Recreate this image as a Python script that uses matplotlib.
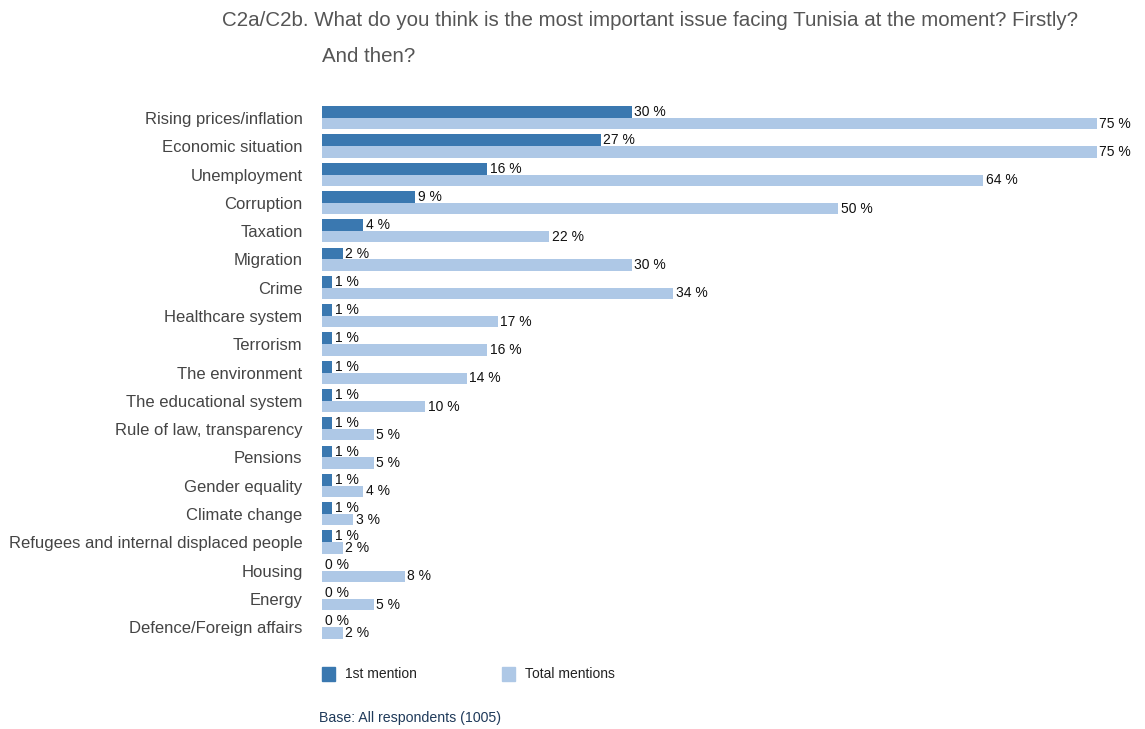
import matplotlib.pyplot as plt
import numpy as np

plt.rcParams['font.family'] = ['Liberation Sans', 'DejaVu Sans']

categories = [
    "Rising prices/inflation", "Economic situation", "Unemployment",
    "Corruption", "Taxation", "Migration", "Crime", "Healthcare system",
    "Terrorism", "The environment", "The educational system",
    "Rule of law, transparency", "Pensions", "Gender equality",
    "Climate change", "Refugees and internal displaced people",
    "Housing", "Energy", "Defence/Foreign affairs",
]
first_mention = [30, 27, 16, 9, 4, 2, 1, 1, 1, 1, 1, 1, 1, 1, 1, 1, 0, 0, 0]
total_mentions = [75, 75, 64, 50, 22, 30, 34, 17, 16, 14, 10, 5, 5, 4, 3, 2, 8, 5, 2]

dark = "#3a78b0"
light = "#aec8e6"

fig = plt.figure(figsize=(11.45, 7.29), dpi=100)
ax = fig.add_axes([0.2812, 0.1152, 0.7188, 0.7476])

y = np.arange(len(categories))
h_dark = 0.42
h_light = 0.40
ax.barh(y - h_dark / 2, first_mention, height=h_dark, color=dark)
ax.barh(y + h_light / 2, total_mentions, height=h_light, color=light)

for yi, v in zip(y, first_mention):
    ax.text(v + 0.25, yi - h_dark / 2, f"{v} %", va="center", ha="left",
            fontsize=10, color="#111111")
for yi, v in zip(y, total_mentions):
    ax.text(v + 0.25, yi + h_light / 2, f"{v} %", va="center", ha="left",
            fontsize=10, color="#111111")

ax.set_xlim(0, 823 / 10.33)
ax.set_ylim(18.63, -0.636)
ax.set_yticks(y)
ax.set_yticklabels(categories, fontsize=12, color="#444444")
ax.tick_params(axis="y", length=0, pad=14)
ax.set_xticks([])
for s in ax.spines.values():
    s.set_visible(False)

# title, two lines
fig.text(222 / 1145, 1 - 20 / 729, "C2a/C2b. What do you think is the most important issue facing Tunisia at the moment? Firstly?",
         fontsize=14.8, color="#555555", va="center", ha="left")
fig.text(322 / 1145, 1 - 57 / 729, "And then?",
         fontsize=14.8, color="#555555", va="center", ha="left")

# legend
fig.patches.append(plt.Rectangle((322 / 1145, 1 - 681 / 729), 13 / 1145, 14 / 729,
                                 transform=fig.transFigure, color=dark))
fig.text(345 / 1145, 1 - 674 / 729, "1st mention", fontsize=10, color="#222222", va="center")
fig.patches.append(plt.Rectangle((502 / 1145, 1 - 681 / 729), 13 / 1145, 14 / 729,
                                 transform=fig.transFigure, color=light))
fig.text(525 / 1145, 1 - 674 / 729, "Total mentions", fontsize=10, color="#222222", va="center")

fig.text(319 / 1145, 1 - 718 / 729, "Base: All respondents (1005)", fontsize=10.2,
         color="#1f3a5a", va="center")

fig.savefig("out.png", dpi=100)
